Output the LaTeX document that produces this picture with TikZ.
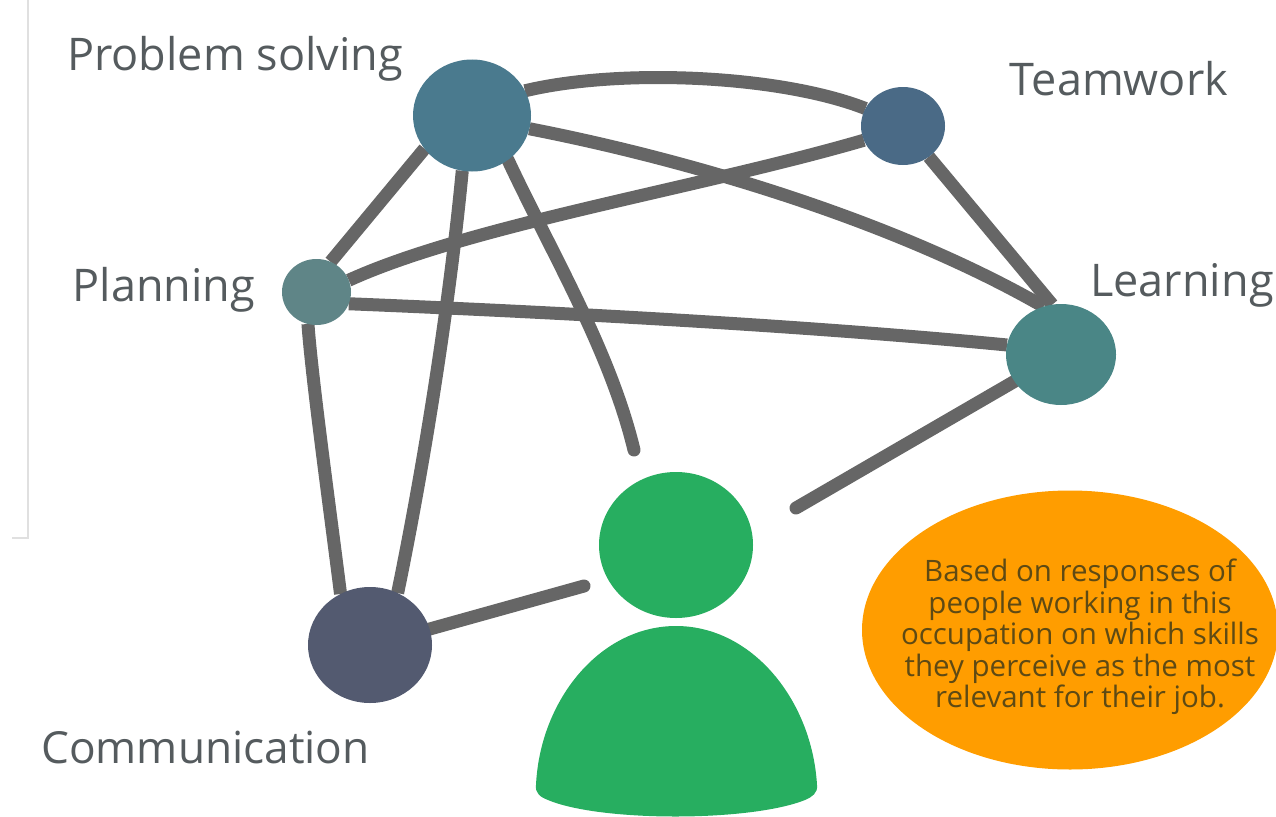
\documentclass[tikz,border=0pt]{standalone}
\usepackage{fontspec}
\usetikzlibrary{backgrounds, shapes.geometric}
\setmainfont{Open Sans}
\definecolor{linegray}{HTML}{666666}
\definecolor{personfill}{HTML}{27AE60}
\definecolor{notefill}{HTML}{FF9D00}
\definecolor{labelgray}{HTML}{555B5E}
\definecolor{notetext}{HTML}{5E4A14}
\definecolor{solvefill}{HTML}{4A7A8E}
\definecolor{teamfill}{HTML}{4A6A86}
\definecolor{planfill}{HTML}{5F8587}
\definecolor{learnfill}{HTML}{4A8686}
\definecolor{commfill}{HTML}{535A70}
\begin{document}
\begin{tikzpicture}[x=1pt, y=-1pt,
	skillnode/.style={ellipse, inner sep=0pt, outer sep=0pt},
	skilledge/.style={draw=linegray, line width=13pt},
	skilllabel/.style={text=labelgray, font=\fontsize{45}{45}\selectfont, inner sep=0pt}]
	\useasboundingbox (0, 0) rectangle (1276, 816);
	
	% skills
	\node[skillnode, fill=solvefill, minimum width=118pt, minimum height=112pt] (solve) at (472, 115.5) {};
	\node[skillnode, fill=teamfill, minimum width=84pt, minimum height=78pt] (team) at (903, 126) {};
	\node[skillnode, fill=planfill, minimum width=69pt, minimum height=66pt] (plan) at (316.5, 292) {};
	\node[skillnode, fill=learnfill, minimum width=110pt, minimum height=101pt] (learn) at (1061, 354.5) {};
	\node[skillnode, fill=commfill, minimum width=124pt, minimum height=116pt] (comm) at (370, 645) {};
	
	% free ends near the person
	\coordinate (solveend) at (634, 450);
	\coordinate (learnend) at (796, 508);
	\coordinate (commend) at (584, 586);
	
	% labels
	\node[skilllabel] (solvetext) at (235, 59) {Problem solving};
	\node[skilllabel] (teamtext) at (1119, 79) {Teamwork};
	\node[skilllabel] (plantext) at (164, 290) {Planning};
	\node[skilllabel] (learntext) at (1182, 285) {Learning};
	\node[skilllabel, font=\fontsize{44.2}{44.2}\selectfont] (commtext) at (205.5, 747) {Communication};
	
	% person
	\node[ellipse, fill=personfill, inner sep=0pt, minimum width=154pt, minimum height=146pt] (head) at (676, 545) {};
	\fill[personfill] (536, 785) .. controls (540, 700) and (600, 626) .. (676, 626)
		.. controls (752, 626) and (812, 700) .. (817, 785)
		.. controls (818, 793) and (812, 797) .. (805, 800)
		.. controls (750, 822) and (600, 822) .. (548, 800)
		.. controls (540, 797) and (535, 793) .. (536, 785) -- cycle;
	
	% note
	\node[ellipse, fill=notefill, inner sep=0pt, minimum width=416pt, minimum height=279pt] (note) at (1070, 630) {};
	\node[text=notetext, font=\fontsize{29.5}{31.5}\selectfont, align=center, inner sep=0pt] (notetxt) at (1080, 637)
		{Based on responses of\\people working in this\\occupation on which skills\\they perceive as the most\\relevant for their job.};
	
	% connectors
	\begin{scope}[on background layer]
		\draw[skilledge] (solve.25) .. controls (620, 68) and (780, 75) .. (team.155);
		\draw[skilledge] (solve.347) .. controls (700, 162) and (900, 224) .. (learn.110);
		\draw[skilledge] (solve.215) -- (plan.65);
		\draw[skilledge] (solve.260) .. controls (450, 300) and (425, 460) .. (comm.62);
		\draw[skilledge, line cap=round] (solve.309) .. controls (550, 250) and (610, 350) .. (solveend);
		\draw[skilledge] (team.200) .. controls (700, 188) and (470, 225) .. (plan.20);
		\draw[skilledge] (team.310) -- (learn.100);
		\draw[skilledge] (plan.340) .. controls (550, 312) and (800, 325) .. (learn.170);
		\draw[skilledge] (plan.255) .. controls (312, 380) and (330, 510) .. (comm.120);
		\draw[skilledge, line cap=round] (learn.210) -- (learnend);
		\draw[skilledge, line cap=round] (comm.15) -- (commend);
		% faint rule on the left
		\draw[black!12, line width=1.5pt] (28, 0) -- (28, 538) -- (12, 538);
	\end{scope}
\end{tikzpicture}
\end{document}
